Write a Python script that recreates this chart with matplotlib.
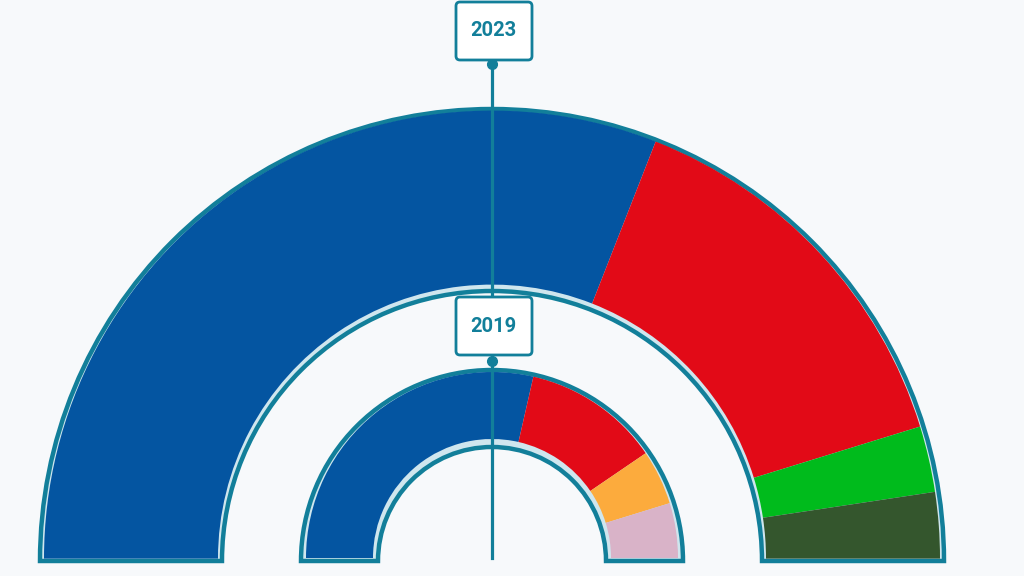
import matplotlib.pyplot as plt
from matplotlib.patches import Wedge, FancyBboxPatch

# seats per party, left to right
years = ["2023", "2019"]
seats_2023 = [13, 6, 1, 1]
colors_2023 = ["#0455a1", "#e20a17", "#00bb1c", "#34562d"]
seats_2019 = [12, 5, 2, 2]
colors_2019 = ["#0455a1", "#e20a17", "#fcab3d", "#d9b3c8"]

bg = "#f7f9fb"
teal = "#127f9a"
light = "#cfe6ee"

fig = plt.figure(figsize=(10.24, 5.76), dpi=100, facecolor=bg)
ax = fig.add_axes([0, 0, 1, 1])
ax.set_xlim(0, 1024)
ax.set_ylim(0, 576)
ax.set_aspect('equal')
ax.axis('off')
ax.set_facecolor(bg)

cx, cy = 492, 15


def draw_ring(seats, colors, r_out, r_in, gap):
    # teal frame + light inner band
    ax.add_patch(Wedge((cx, cy), r_out, 0, 180, width=r_out - r_in,
                       facecolor=light, edgecolor=teal, lw=3.2, zorder=1))
    total = sum(seats)
    start = 180.0
    for s, c in zip(seats, colors):
        end = start - 180.0 * s / total
        ax.add_patch(Wedge((cx, cy + gap * 0.6), r_out - gap, end, start,
                           width=r_out - r_in - 2 * gap,
                           facecolor=c, edgecolor='none', zorder=2))
        start = end


draw_ring(seats_2023, colors_2023, 452, 270, 4)
draw_ring(seats_2019, colors_2019, 191, 114, 5)

# marker line
ax.plot([cx, cx], [512, 18], color=teal, lw=2.3, zorder=3)
for y in [512, 215]:
    ax.plot(cx, y, 'o', color=teal, ms=7, zorder=4)

for label, ytop in zip(years, [575, 280]):
    box = FancyBboxPatch((456, ytop - 59), 76, 58,
                         boxstyle="round,pad=0,rounding_size=4",
                         facecolor='white', edgecolor=teal, lw=2, zorder=5)
    ax.add_patch(box)
    ax.text(cx + 1, ytop - 30, label, ha='center', va='center',
            fontsize=14.5, fontweight='bold', color=teal,
            family='Roboto', zorder=6)

fig.savefig("out.png", dpi=100, facecolor=bg)
